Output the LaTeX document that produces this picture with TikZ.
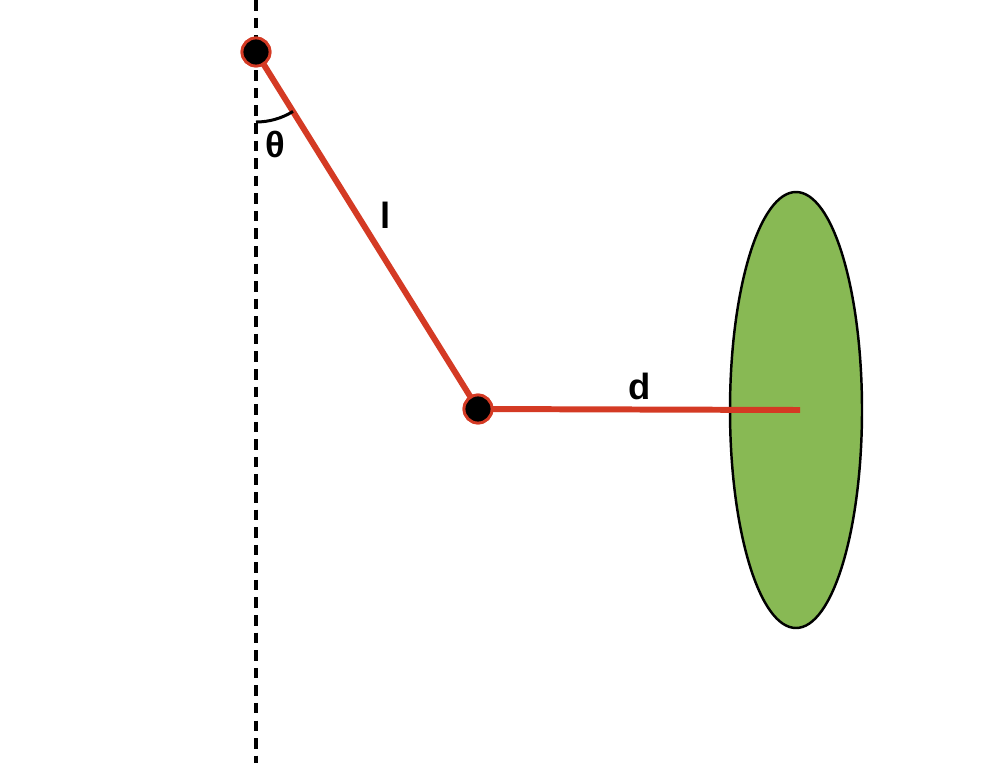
\documentclass[tikz,border=0pt]{standalone}
\usepackage{fontspec}
\setsansfont{Liberation Sans}
\usepackage{xcolor}
\usetikzlibrary{
    shapes.geometric,
    calc,
    positioning
}
\definecolor{rodred}{RGB}{212,58,36}
\definecolor{discgreen}{RGB}{136,185,84}
\tikzset{
    rod/.style={draw=rodred, line width=3.4pt},
    joint/.style={circle, fill=black, draw=rodred, line width=1.6pt, minimum size=0.56cm, inner sep=0pt},
    disc/.style={ellipse, fill=discgreen, draw=black, line width=1.4pt, minimum width=2.64cm, minimum height=8.72cm, inner sep=0pt},
    lbl/.style={font=\sffamily\bfseries\huge}
}

\begin{document}
\begin{tikzpicture}
                        \useasboundingbox (0, 0) rectangle (20, -15.26);

                        \coordinate (top) at (5.12, 0);
                        \coordinate (bottom) at (5.12, -15.26);
                        \draw[line width=1.8pt, dash pattern=on 6pt off 4pt] (top) -- (bottom);

                        \node[disc] (disc) at (15.92, -8.2) {};
                        \coordinate (centre) at (16.0, -8.2);

                        \node[joint] (pivot) at (5.12, -1.04) {};
                        \node[joint] (bob) at (9.56, -8.18) {};

                        \draw[rod] (pivot.center) -- (bob.center);
                        \draw[rod] (bob.center) -- (centre);
                        \node[joint] at (pivot) {};
                        \node[joint] at (bob) {};

                        \draw[line width=1.7pt] ($(pivot)+(-90:1.4)$) arc (-90:-58.1:1.4);

                        \node[lbl] (theta) at (5.5, -2.88) {θ};
                        \node[lbl] (len) at (7.72, -4.3) {l};
                        \node[lbl] (dist) at (12.8, -7.72) {d};
\end{tikzpicture}
\end{document}
